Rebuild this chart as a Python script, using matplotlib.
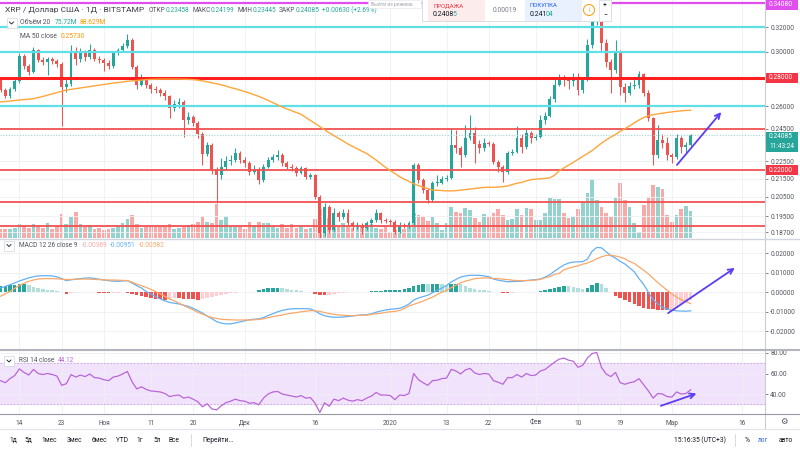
import numpy as np
import matplotlib
matplotlib.use('Agg')
import matplotlib.pyplot as plt
from matplotlib.patches import Rectangle, Ellipse
from matplotlib.lines import Line2D
from matplotlib.ticker import NullLocator

plt.rcParams['font.family'] = ['Roboto', 'DejaVu Sans']

# daily XRP / USD (Bitstamp)
start_date = '2019-10-10'
first_open = 0.2790
closes = [
    0.2713, 0.2672, 0.2720, 0.2775, 0.2965, 0.2890, 0.2846, 0.3010, 0.2935, 0.2920,
    0.2945, 0.2925, 0.2905, 0.2735, 0.2755, 0.2990, 0.2945, 0.2990, 0.2955, 0.3015,
    0.2945, 0.2935, 0.2915, 0.2890, 0.2990, 0.3010, 0.3045, 0.3095, 0.2885, 0.2750,
    0.2795, 0.2750, 0.2720, 0.2713, 0.2695, 0.2670, 0.2590, 0.2615, 0.2630, 0.2510,
    0.2525, 0.2490, 0.2420, 0.2297, 0.2349, 0.2200, 0.2170, 0.2220, 0.2250, 0.2260,
    0.2300, 0.2258, 0.2240, 0.2190, 0.2205, 0.2143, 0.2220, 0.2258, 0.2277, 0.2287,
    0.2239, 0.2220, 0.2210, 0.2185, 0.2210, 0.2162, 0.2170, 0.2052, 0.1865, 0.1996,
    0.1880, 0.1965, 0.1944, 0.1965, 0.1915, 0.1894, 0.1907, 0.1888, 0.1915, 0.1928,
    0.1965, 0.1928, 0.1925, 0.1920, 0.1872, 0.1906, 0.1900, 0.1913, 0.2229, 0.2143,
    0.2090, 0.2035, 0.2125, 0.2128, 0.2150, 0.2155, 0.2349, 0.2329, 0.2287, 0.2390,
    0.2426, 0.2356, 0.2329, 0.2360, 0.2355, 0.2249, 0.2220, 0.2190, 0.2302, 0.2308,
    0.2390, 0.2335, 0.2426, 0.2390, 0.2400, 0.2508, 0.2537, 0.2650, 0.2750, 0.2796,
    0.2785, 0.2775, 0.2810, 0.2710, 0.2796, 0.3050, 0.3255, 0.3320, 0.3065, 0.2920,
    0.2860, 0.2990, 0.2735, 0.2695, 0.2740, 0.2750, 0.2830, 0.2695, 0.2520, 0.2287,
    0.2380, 0.2360, 0.2287, 0.2277, 0.2390, 0.2335, 0.2349, 0.2409]
highs = [
    0.2810, 0.2730, 0.2735, 0.2790, 0.2990, 0.2985, 0.2905, 0.3035, 0.3020, 0.2960,
    0.2960, 0.2955, 0.2940, 0.2920, 0.2790, 0.3055, 0.3040, 0.3030, 0.3010, 0.3060,
    0.3030, 0.2965, 0.2950, 0.2935, 0.3005, 0.3030, 0.3070, 0.3140, 0.3110, 0.2900,
    0.2830, 0.2810, 0.2765, 0.2745, 0.2730, 0.2710, 0.2680, 0.2640, 0.2660, 0.2640,
    0.2560, 0.2540, 0.2500, 0.2430, 0.2370, 0.2360, 0.2215, 0.2270, 0.2280, 0.2290,
    0.2330, 0.2310, 0.2275, 0.2255, 0.2230, 0.2215, 0.2235, 0.2275, 0.2295, 0.2318,
    0.2300, 0.2250, 0.2235, 0.2225, 0.2225, 0.2220, 0.2185, 0.2180, 0.2060, 0.2017,
    0.2005, 0.1990, 0.1975, 0.1985, 0.1985, 0.1925, 0.1920, 0.1915, 0.1925, 0.1940,
    0.1985, 0.1970, 0.1940, 0.1935, 0.1930, 0.1920, 0.1915, 0.1925, 0.2240, 0.2240,
    0.2155, 0.2100, 0.2135, 0.2170, 0.2165, 0.2170, 0.2455, 0.2445, 0.2345, 0.2474,
    0.2540, 0.2460, 0.2380, 0.2390, 0.2375, 0.2365, 0.2260, 0.2230, 0.2315, 0.2325,
    0.2470, 0.2420, 0.2450, 0.2435, 0.2420, 0.2540, 0.2560, 0.2670, 0.2790, 0.2830,
    0.2820, 0.2810, 0.2840, 0.2840, 0.2810, 0.3100, 0.3300, 0.3408, 0.3330, 0.3100,
    0.2940, 0.3090, 0.3010, 0.2760, 0.2770, 0.2790, 0.2850, 0.2835, 0.2710, 0.2530,
    0.2475, 0.2420, 0.2400, 0.2300, 0.2418, 0.2405, 0.2365, 0.2420]
lows = [
    0.2700, 0.2655, 0.2660, 0.2705, 0.2765, 0.2870, 0.2820, 0.2835, 0.2920, 0.2895,
    0.2820, 0.2905, 0.2885, 0.2470, 0.2700, 0.2740, 0.2900, 0.2920, 0.2930, 0.2940,
    0.2925, 0.2910, 0.2850, 0.2870, 0.2875, 0.2975, 0.2995, 0.3030, 0.2870, 0.2720,
    0.2740, 0.2730, 0.2690, 0.2690, 0.2670, 0.2640, 0.2520, 0.2570, 0.2590, 0.2400,
    0.2480, 0.2470, 0.2390, 0.2230, 0.2280, 0.2180, 0.2020, 0.2150, 0.2200, 0.2230,
    0.2245, 0.2240, 0.2220, 0.2170, 0.2175, 0.2120, 0.2130, 0.2210, 0.2245, 0.2260,
    0.2225, 0.2205, 0.2195, 0.2165, 0.2175, 0.2150, 0.2150, 0.2040, 0.1810, 0.1850,
    0.1865, 0.1870, 0.1925, 0.1935, 0.1905, 0.1880, 0.1885, 0.1860, 0.1880, 0.1905,
    0.1920, 0.1915, 0.1915, 0.1905, 0.1860, 0.1865, 0.1890, 0.1890, 0.1905, 0.2125,
    0.2070, 0.2017, 0.2025, 0.2110, 0.2120, 0.2140, 0.2150, 0.2300, 0.2220, 0.2275,
    0.2380, 0.2240, 0.2300, 0.2310, 0.2340, 0.2235, 0.2190, 0.2134, 0.2180, 0.2290,
    0.2300, 0.2300, 0.2325, 0.2360, 0.2380, 0.2390, 0.2480, 0.2530, 0.2630, 0.2740,
    0.2740, 0.2720, 0.2740, 0.2680, 0.2690, 0.2780, 0.3030, 0.3220, 0.3000, 0.2880,
    0.2690, 0.2840, 0.2680, 0.2630, 0.2680, 0.2720, 0.2730, 0.2670, 0.2500, 0.2229,
    0.2270, 0.2330, 0.2260, 0.2240, 0.2265, 0.2300, 0.2300, 0.2340]
volumes_m = [
    25, 24, 24, 27, 39, 36, 27, 39, 32, 27,
    41, 24, 32, 66, 39, 60, 74, 39, 32, 36,
    24, 27, 22, 24, 27, 32, 41, 52, 64, 39,
    27, 32, 30, 30, 32, 32, 39, 24, 27, 32,
    36, 39, 46, 62, 46, 41, 94, 50, 62, 32,
    32, 30, 24, 46, 36, 46, 41, 41, 30, 27,
    39, 27, 39, 27, 30, 24, 27, 52, 80, 64,
    55, 32, 32, 41, 32, 27, 36, 34, 30, 39,
    27, 24, 32, 18, 22, 32, 24, 34, 69, 64,
    58, 49, 60, 41, 22, 41, 88, 74, 69, 83,
    78, 55, 46, 67, 60, 69, 80, 64, 50, 53,
    80, 64, 83, 80, 50, 50, 69, 113, 108, 108,
    69, 55, 60, 80, 102, 127, 165, 106, 88, 69,
    58, 111, 155, 106, 86, 43, 18, 92, 115, 148,
    144, 136, 64, 46, 64, 80, 90, 76]
ma50 = [
    0.2630, 0.2633, 0.2636, 0.2640, 0.2643, 0.2646, 0.2649, 0.2652, 0.2660, 0.2668,
    0.2677, 0.2686, 0.2695, 0.2704, 0.2713, 0.2718, 0.2723, 0.2728, 0.2733, 0.2738,
    0.2743, 0.2748, 0.2753, 0.2758, 0.2763, 0.2767, 0.2771, 0.2776, 0.2779, 0.2782,
    0.2785, 0.2788, 0.2790, 0.2791, 0.2792, 0.2792, 0.2792, 0.2792, 0.2792, 0.2791,
    0.2790, 0.2788, 0.2785, 0.2779, 0.2772, 0.2765, 0.2758, 0.2750, 0.2741, 0.2731,
    0.2722, 0.2712, 0.2702, 0.2692, 0.2680, 0.2668, 0.2655, 0.2640, 0.2625, 0.2610,
    0.2595, 0.2582, 0.2570, 0.2558, 0.2546, 0.2525, 0.2505, 0.2485, 0.2465, 0.2445,
    0.2425, 0.2408, 0.2390, 0.2373, 0.2355, 0.2340, 0.2325, 0.2311, 0.2297, 0.2278,
    0.2258, 0.2236, 0.2215, 0.2197, 0.2180, 0.2162, 0.2148, 0.2135, 0.2122, 0.2112,
    0.2103, 0.2095, 0.2088, 0.2086, 0.2085, 0.2083, 0.2083, 0.2084, 0.2087, 0.2090,
    0.2093, 0.2096, 0.2099, 0.2102, 0.2103, 0.2103, 0.2104, 0.2106, 0.2110, 0.2118,
    0.2125, 0.2130, 0.2138, 0.2145, 0.2148, 0.2150, 0.2152, 0.2155, 0.2170, 0.2196,
    0.2212, 0.2228, 0.2245, 0.2262, 0.2280, 0.2297, 0.2315, 0.2338, 0.2360, 0.2380,
    0.2398, 0.2415, 0.2435, 0.2452, 0.2470, 0.2490, 0.2508, 0.2525, 0.2535, 0.2543,
    0.2549, 0.2553, 0.2558, 0.2562, 0.2566, 0.2569, 0.2572, 0.2573]
macd_line = [
    0.0022, 0.0030, 0.0039, 0.0048, 0.0058, 0.0066, 0.0074, 0.0080, 0.0084, 0.0085,
    0.0085, 0.0084, 0.0079, 0.0070, 0.0060, 0.0064, 0.0067, 0.0070, 0.0073, 0.0074,
    0.0071, 0.0067, 0.0063, 0.0060, 0.0057, 0.0056, 0.0058, 0.0060, 0.0048, 0.0034,
    0.0022, 0.0004, -0.0009, -0.0022, -0.0034, -0.0044, -0.0052, -0.0056, -0.0060, -0.0066,
    -0.0072, -0.0082, -0.0094, -0.0106, -0.0122, -0.0135, -0.0150, -0.0158, -0.0162, -0.0162,
    -0.0157, -0.0152, -0.0146, -0.0141, -0.0138, -0.0136, -0.0130, -0.0119, -0.0110, -0.0100,
    -0.0093, -0.0088, -0.0085, -0.0084, -0.0084, -0.0084, -0.0085, -0.0096, -0.0110, -0.0120,
    -0.0125, -0.0128, -0.0128, -0.0127, -0.0124, -0.0121, -0.0118, -0.0116, -0.0115, -0.0110,
    -0.0102, -0.0096, -0.0091, -0.0087, -0.0085, -0.0082, -0.0073, -0.0060, -0.0040, -0.0029,
    -0.0022, -0.0015, -0.0002, 0.0010, 0.0022, 0.0035, 0.0053, 0.0066, 0.0078, 0.0084,
    0.0087, 0.0087, 0.0087, 0.0084, 0.0080, 0.0068, 0.0062, 0.0058, 0.0054, 0.0055,
    0.0056, 0.0057, 0.0060, 0.0063, 0.0065, 0.0068, 0.0078, 0.0090, 0.0108, 0.0125,
    0.0140, 0.0150, 0.0155, 0.0156, 0.0157, 0.0170, 0.0210, 0.0230, 0.0228, 0.0208,
    0.0188, 0.0175, 0.0158, 0.0145, 0.0125, 0.0105, 0.0070, 0.0040, 0.0000, -0.0038,
    -0.0060, -0.0077, -0.0086, -0.0092, -0.0095, -0.0096, -0.0097, -0.0095]
signal_line = [
    -0.0020, -0.0008, 0.0005, 0.0020, 0.0036, 0.0046, 0.0056, 0.0063, 0.0068, 0.0070,
    0.0070, 0.0070, 0.0069, 0.0067, 0.0065, 0.0066, 0.0067, 0.0068, 0.0068, 0.0067,
    0.0066, 0.0065, 0.0064, 0.0063, 0.0063, 0.0062, 0.0061, 0.0060, 0.0052, 0.0042,
    0.0034, 0.0025, 0.0015, 0.0004, -0.0008, -0.0021, -0.0034, -0.0044, -0.0056, -0.0068,
    -0.0079, -0.0090, -0.0103, -0.0112, -0.0122, -0.0129, -0.0134, -0.0138, -0.0140, -0.0141,
    -0.0142, -0.0142, -0.0142, -0.0142, -0.0141, -0.0139, -0.0136, -0.0130, -0.0125, -0.0120,
    -0.0117, -0.0111, -0.0107, -0.0104, -0.0100, -0.0097, -0.0094, -0.0095, -0.0098, -0.0104,
    -0.0109, -0.0113, -0.0116, -0.0118, -0.0119, -0.0120, -0.0119, -0.0118, -0.0117, -0.0113,
    -0.0110, -0.0107, -0.0103, -0.0100, -0.0098, -0.0093, -0.0083, -0.0070, -0.0062, -0.0054,
    -0.0045, -0.0034, -0.0025, -0.0012, 0.0000, 0.0010, 0.0024, 0.0036, 0.0049, 0.0057,
    0.0063, 0.0070, 0.0072, 0.0074, 0.0073, 0.0071, 0.0070, 0.0067, 0.0065, 0.0062,
    0.0060, 0.0060, 0.0060, 0.0061, 0.0063, 0.0066, 0.0075, 0.0080, 0.0092, 0.0097,
    0.0115, 0.0124, 0.0130, 0.0136, 0.0144, 0.0150, 0.0160, 0.0172, 0.0182, 0.0189,
    0.0190, 0.0186, 0.0180, 0.0172, 0.0158, 0.0148, 0.0130, 0.0113, 0.0094, 0.0072,
    0.0050, 0.0030, 0.0010, -0.0008, -0.0025, -0.0038, -0.0048, -0.0058]
macd_hist = [
    0.0030, 0.0032, 0.0036, 0.0038, 0.0040, 0.0040, 0.0035, 0.0028, 0.0022, 0.0018,
    0.0014, 0.0010, 0.0006, 0.0003, -0.0010, -0.0002, 0.0000, 0.0002, 0.0003, 0.0004,
    0.0002, -0.0003, -0.0005, -0.0006, -0.0005, -0.0003, -0.0001, -0.0002, -0.0008, -0.0014,
    -0.0020, -0.0026, -0.0030, -0.0033, -0.0036, -0.0038, -0.0034, -0.0030, -0.0030, -0.0032,
    -0.0034, -0.0036, -0.0038, -0.0036, -0.0030, -0.0024, -0.0018, -0.0012, -0.0008, -0.0004,
    -0.0002, -0.0001, 0.0001, 0.0002, 0.0004, 0.0010, 0.0015, 0.0020, 0.0022, 0.0022,
    0.0020, 0.0016, 0.0013, 0.0010, 0.0007, 0.0004, 0.0001, -0.0008, -0.0013, -0.0015,
    -0.0012, -0.0008, -0.0005, -0.0003, -0.0001, 0.0000, 0.0002, 0.0003, 0.0003, 0.0005,
    0.0007, 0.0008, 0.0010, 0.0012, 0.0012, 0.0013, 0.0016, 0.0022, 0.0030, 0.0038,
    0.0042, 0.0040, 0.0040, 0.0042, 0.0040, 0.0038, 0.0040, 0.0042, 0.0040, 0.0030,
    0.0024, 0.0018, 0.0014, 0.0010, 0.0007, 0.0004, 0.0002, -0.0003, -0.0005, -0.0003,
    -0.0001, 0.0000, 0.0001, 0.0002, 0.0003, 0.0005, 0.0010, 0.0015, 0.0020, 0.0028,
    0.0032, 0.0030, 0.0025, 0.0020, 0.0016, 0.0022, 0.0035, 0.0048, 0.0040, 0.0022,
    0.0004, -0.0018, -0.0030, -0.0040, -0.0050, -0.0060, -0.0070, -0.0078, -0.0085, -0.0088,
    -0.0090, -0.0091, -0.0091, -0.0086, -0.0075, -0.0062, -0.0050, -0.0037]
rsi = [
    53, 51, 55, 58, 64.5, 61, 58.5, 64, 60, 59,
    60, 59, 57.5, 48.5, 50, 59, 56.5, 58.5, 57, 59.5,
    56, 55.5, 54, 53, 56.5, 57.5, 59.5, 62, 52, 45,
    47, 44.5, 43, 42.5, 42, 40.5, 37.5, 38.5, 39, 36,
    37, 35, 32.5, 27.5, 30.5, 25.5, 24.5, 28.5, 31.5, 33,
    35, 33.5, 33, 31, 31.5, 29.5, 36, 40, 42, 42.5,
    40, 39, 38, 37, 38.5, 36, 36.5, 31, 22, 31.5,
    28, 35, 33.5, 36, 34, 33, 34.5, 33.5, 36, 38,
    41.5, 39, 39, 38.5, 34.5, 39, 38.5, 40.5, 60, 54,
    51, 48.5, 53, 53.5, 55, 55.5, 64, 62.5, 59.5, 63.5,
    65, 60.5, 59, 60, 59.5, 53, 51.5, 49.5, 56, 56,
    59, 56.5, 60, 58, 58.5, 62.5, 64, 67.5, 71, 74,
    75, 73, 72, 66, 68, 75, 79.5, 80.5, 66, 59.5,
    57, 61, 51, 49.5, 51, 52, 55, 49, 43, 36,
    40.5, 40, 37.5, 37, 42, 40, 40.5, 44.1]

tick_dates = ['2019-10-14', '2019-10-23', '2019-11-01', '2019-11-11', '2019-11-20',
              '2019-12-01', '2019-12-16', '2020-01-01', '2020-01-13', '2020-01-22',
              '2020-02-01', '2020-02-10', '2020-02-19', '2020-03-01', '2020-03-16']
tick_labels = ['14', '23', 'Ноя', '11', '20', 'Дек', '16', '2020', '13', '22',
               'Фев', '10', '19', 'Мар', '16']
price_ticks = [0.32, 0.30, 0.26, 0.245, 0.225, 0.215, 0.205, 0.195, 0.187]
cyan_levels = [0.32, 0.30, 0.26]
main_red_level = 0.28
red_levels = [0.245, 0.22, 0.2025, 0.1902]
peak_level = 0.3408
last_price = 0.24085
macd_ticks = [0.02, 0.01, 0.0, -0.01, -0.02]
rsi_ticks = [80, 60, 40]
# hand drawn arrows: (day, value) start and end
price_arrow = [(143.7, 0.2217), (153.9, 0.2575)]
macd_arrow = [(141.7, -0.0115), (156.9, 0.0133)]
rsi_arrow = [(140.1, 27.6), (148.8, 41.3)]

W, H = 800, 450
UP, DOWN = '#26a69a', '#ef5350'
AX_TXT = '#50535e'
FS = 4.7

fig = plt.figure(figsize=(8, 4.5), dpi=100)
fig.patch.set_facecolor('white')
renderer = fig.canvas.get_renderer()


def rect(left, top, width, height):
    return [left / W, 1 - (top + height) / H, width / W, height / H]


def fig_line(xs, ys, color, lw, z=5):
    fig.add_artist(Line2D([v / W for v in xs], [1 - v / H for v in ys],
                          transform=fig.transFigure, color=color, lw=lw, zorder=z))


def fig_box(x0, y0, w, h, fc, ec='none', lw=0.5, z=6):
    fig.add_artist(Rectangle((x0 / W, 1 - (y0 + h) / H), w / W, h / H,
                             transform=fig.transFigure, fc=fc, ec=ec, lw=lw, zorder=z))


def text_run(x, y, parts, size, z=12):
    for s, color, gap in parts:
        t = fig.text(x / W, 1 - y / H, s, color=color, fontsize=size,
                     ha='left', va='center', zorder=z)
        x += t.get_window_extent(renderer).width + gap


def chevron(xc, yc):
    fig_box(xc - 5, yc - 5, 10, 10, 'white', '#d1d4dc', 0.5, z=11)
    fig_line([xc - 2, xc, xc + 2], [yc - 1, yc + 1, yc - 1], '#131722', 0.6, z=12)


x = np.arange(len(closes))
closes = np.array(closes)
opens = np.r_[first_open, closes[:-1]]
up = closes >= opens
day_ticks = (np.array(tick_dates, dtype='datetime64[D]') - np.datetime64(start_date)).astype(int)
xlim = (-0.13, 162.84)


def style_axis(a):
    for s in a.spines.values():
        s.set_visible(False)
    a.set_xlim(*xlim)
    a.set_xticks(day_ticks)
    a.yaxis.tick_right()
    a.tick_params(axis='y', labelsize=FS, colors=AX_TXT, length=2.2, width=0.5, pad=1.6)
    a.tick_params(axis='x', length=0, labelbottom=False)
    a.grid(True, color='#eef0f4', lw=0.6)
    a.set_axisbelow(True)


# ---- main pane: volume underneath, candles on top ----
ax_vol = fig.add_axes(rect(0, 0, 765, 238))
ax_vol.bar(x, volumes_m, width=0.78, color=np.where(up, '#94d3cd', '#f7aaa8'), zorder=1)
ax_vol.set_xlim(*xlim)
ax_vol.set_ylim(0, 667)
ax_vol.axis('off')

ax = fig.add_axes(rect(0, 0, 765, 238))
ax.patch.set_alpha(0)
ax.set_yscale('log')
ax.set_ylim(0.1841, 0.3435)
style_axis(ax)
ax.yaxis.set_minor_locator(NullLocator())
ax.set_yticks(price_ticks)
ax.set_yticklabels([f'{v:.5f}' for v in price_ticks])

colors = np.where(up, UP, DOWN)
ax.vlines(x, lows, highs, colors=colors, lw=0.75, zorder=2)
ax.bar(x, np.maximum(np.abs(closes - opens), closes * 0.0025), bottom=np.minimum(opens, closes),
       width=0.62, color=colors, zorder=2.5)

for lvl in cyan_levels:
    ax.axhline(lvl, color='#5fe0e6', lw=1.6, zorder=3)
ax.axhline(main_red_level, color='#ff1f1f', lw=2.2, zorder=3)
for lvl in red_levels:
    ax.axhline(lvl, color='#f25252', lw=1.3, zorder=3)
ax.axhline(peak_level, color='#e04ef0', lw=1.6, zorder=3)
ax.axhline(last_price, color='#9fd5cf', lw=0.8, ls=(0, (1, 1.5)), zorder=3)
ax.plot(x, ma50, color='#ffa53a', lw=1.0, zorder=4)
ax.annotate('', xy=price_arrow[1], xytext=price_arrow[0],
            arrowprops=dict(arrowstyle='->', color='#5b3df5', lw=1.3, mutation_scale=9), zorder=6)

# ---- MACD pane ----
ax_macd = fig.add_axes(rect(0, 239, 765, 110))
style_axis(ax_macd)
ax_macd.set_ylim(-0.02908, 0.02733)
hist = np.array(macd_hist)
prev = np.r_[hist[0], hist[:-1]]
hist_colors = np.where(hist >= 0, np.where(hist >= prev, '#26a69a', '#b2dfdb'),
                       np.where(hist <= prev, '#ef5350', '#ffcdd2'))
ax_macd.bar(x, hist, width=0.75, color=hist_colors, zorder=2)
ax_macd.plot(x, macd_line, color='#64b0f4', lw=0.9, zorder=3)
ax_macd.plot(x, signal_line, color='#f8a86a', lw=0.9, zorder=3)
ax_macd.set_yticks(macd_ticks)
ax_macd.set_yticklabels([f'{v:.5f}' for v in macd_ticks])
ax_macd.annotate('', xy=macd_arrow[1], xytext=macd_arrow[0],
                 arrowprops=dict(arrowstyle='->', color='#5b3df5', lw=1.3, mutation_scale=9))

# ---- RSI pane ----
ax_rsi = fig.add_axes(rect(0, 351, 765, 63))
style_axis(ax_rsi)
ax_rsi.set_ylim(20.49, 81.95)
ax_rsi.axhspan(30, 70, color='#f1e3fc', zorder=0.5)
ax_rsi.axhline(70, color='#c3a6d6', lw=0.6, ls=(0, (2, 2)), zorder=1)
ax_rsi.axhline(30, color='#c3a6d6', lw=0.6, ls=(0, (2, 2)), zorder=1)
ax_rsi.plot(x, rsi, color='#b866d8', lw=0.9, zorder=3)
ax_rsi.set_yticks(rsi_ticks)
ax_rsi.set_yticklabels([f'{v:.2f}' for v in rsi_ticks])
ax_rsi.tick_params(axis='x', labelbottom=True, labelsize=FS, colors=AX_TXT, pad=4)
ax_rsi.set_xticklabels(tick_labels)
ax_rsi.annotate('', xy=rsi_arrow[1], xytext=rsi_arrow[0],
                arrowprops=dict(arrowstyle='->', color='#5b3df5', lw=1.3, mutation_scale=9))

# ---- frame lines ----
fig_line([765, 765], [0, 429], '#c9ccd3', 0.8)
fig_line([0, 800], [238.5, 238.5], '#d1d4dc', 1.0)
fig_line([0, 800], [350, 350], '#b2b5be', 1.5)
fig_line([0, 800], [414, 414], '#9598a1', 0.8)
fig_line([0, 800], [429, 429], '#e0e3eb', 0.8)


# ---- price tags on the right scale ----
def tag(axis, value, text, bg, dy=0.0):
    ytop = H - axis.transData.transform((0, value))[1] + dy
    ytop = max(ytop, 5.0)
    fig_box(766, ytop - 4.75, 32, 9.5, bg, z=7)
    fig.text(769 / W, 1 - ytop / H, text, color='white', fontsize=FS, va='center', ha='left', zorder=8)


tag(ax, peak_level, f'{peak_level:.5f}', '#e04ef0')
tag(ax, main_red_level, f'{main_red_level:.5f}', '#f23645')
tag(ax, 0.22, '0.22000', '#f23645')
tag(ax, last_price, f'{last_price:.5f}', '#26a69a', dy=1.5)
tag(ax, last_price, '11:43:24', '#26a69a', dy=11.5)

# ---- legends ----
text_run(5, 10, [('XRP / Доллар США · 1Д · BITSTAMP', '#3a3e4a', 6)], 6.0)
text_run(149, 10, [('ОТКР', '#50535e', 0), ('0.23458', UP, 3), ('МАКС', '#50535e', 0),
                   ('0.24199', UP, 3), ('МИН', '#50535e', 0), ('0.23445', UP, 3),
                   ('ЗАКР', '#50535e', 0), ('0.24085', UP, 3), ('+0.00630 (+2.69%)', UP, 0)], FS)
chevron(11.5, 23)
text_run(20, 23, [('Объём 20', '#50535e', 4), ('75.72M', UP, 3), ('88.629M', '#ff9800', 0)], 4.9)
text_run(20, 36, [('MA 50 close', '#50535e', 4), ('0.25730', '#ff9800', 0)], 4.9)
chevron(9, 245.5)
text_run(19, 245.5, [('MACD 12 26 close 9', '#50535e', 4), ('-0.00369', '#f7a9a7', 3),
                     ('-0.00951', '#64b0f4', 3), ('-0.00582', '#f8a86a', 0)], FS)
chevron(9, 361)
text_run(19, 361, [('RSI 14 close', '#50535e', 4), ('44.12', '#b866d8', 0)], FS)

# faint tooltip at the top
fig_box(368, 0, 53, 8, 'white', '#e0e3eb', 0.4, z=13)
fig.text(371 / W, 1 - 4.2 / H, 'Выйти из режима', color='#a3a6af', fontsize=3.6, va='center', zorder=14)

# sell / buy panel
fig_box(422, -2, 189, 23, 'white', '#d6d8de', 0.6, z=15)
fig_box(428, 0, 57, 21, '#fdecec', z=16)
fig_box(525, 0, 57, 21, '#e8f1fd', z=16)
text_run(433, 5.5, [('ПРОДАЖА', '#f23645', 0)], 4.3, z=17)
text_run(433, 15, [('0.2408', '#131722', -1.5), ('5', UP, 0)], 5.0, z=17)
fig.text(505 / W, 1 - 10 / H, '0.00019', color='#787b86', fontsize=4.8, ha='center', va='center', zorder=17)
text_run(530, 5.5, [('ПОКУПКА', '#2962ff', 0)], 4.3, z=17)
text_run(530, 15, [('0.241', '#131722', -1.5), ('04', UP, 0)], 5.0, z=17)
fig.add_artist(Ellipse((589 / W, 1 - 10 / H), 11 / W, 11 / H, transform=fig.transFigure,
                       fc='white', ec='#f7a325', lw=0.8, zorder=17))
fig.text(589 / W, 1 - 10 / H, 'i', color='#f7a325', fontsize=5, ha='center', va='center', zorder=18)
fig_box(599, 0, 12, 21, 'white', '#d6d8de', 0.5, z=17)
fig.text(605 / W, 1 - 5.5 / H, '+', color='#131722', fontsize=5, ha='center', va='center', zorder=18)
fig.text(605 / W, 1 - 15.5 / H, '−', color='#131722', fontsize=5, ha='center', va='center', zorder=18)

# ---- bottom toolbar ----
for lbl, xp in [('1д', 13), ('5д', 28), ('1мес', 49), ('3мес', 74), ('6мес', 99), ('YTD', 122),
                ('1г', 140), ('5л', 157), ('Все', 174), ('Перейти...', 218)]:
    fig.text(xp / W, 1 - 440 / H, lbl, color='#131722', fontsize=4.8, ha='center', va='center')
fig_line([191, 191], [434, 446], '#d1d4dc', 0.6)
fig_line([735, 735], [434, 446], '#d1d4dc', 0.6)
fig.text(700 / W, 1 - 440 / H, '15:16:35 (UTC+3)', color='#131722', fontsize=4.8, ha='center', va='center')
fig.text(747 / W, 1 - 440 / H, '%', color='#131722', fontsize=4.8, ha='center', va='center')
fig.text(763 / W, 1 - 440 / H, 'лог', color='#2962ff', fontsize=4.8, ha='center', va='center')
fig.text(786 / W, 1 - 440 / H, 'авто', color='#131722', fontsize=4.8, ha='center', va='center')
fig.text(784 / W, 1 - 422 / H, '⚙', color='#50535e', fontsize=6, ha='center', va='center')

fig.savefig('out.png', dpi=100)
